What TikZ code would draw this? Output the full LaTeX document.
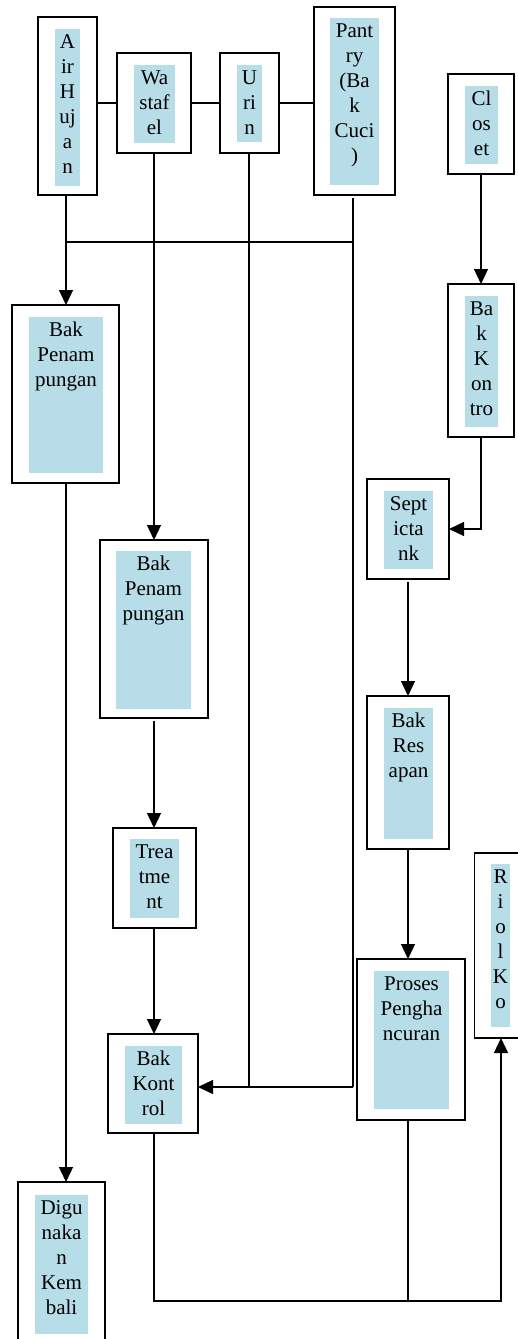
\documentclass[tikz,border=0pt]{standalone}
\usepackage{fontspec}
\setmainfont{Liberation Serif}
\usetikzlibrary{arrows.meta}

\definecolor{LabelColor}{rgb}{0.718,0.867,0.910}
\tikzstyle{unit-box}=[rectangle,
                      draw=black,
                      line width=1.7pt,
                      inner sep=0pt,
                      outer sep=0pt
                     ]
\tikzstyle{unit-label}=[rectangle,
                        fill={LabelColor},
                        inner sep=0pt,
                        anchor=north,
                        font=\fontsize{21}{25}\selectfont
                       ]
\newcommand{\labeltext}[3]{\parbox[t][#2][t]{#1}{\centering\rule{0pt}{20pt}#3}}

\begin{document}
\begin{tikzpicture}[x=1pt, y=-1pt, line width=1.3pt,
    >={Triangle[length=15pt, width=14pt]}]

\useasboundingbox (0,0) rectangle (517,1339);

% sumber
\node at (67.5,106) (airhujan) [unit-box, minimum width=59pt, minimum height=178pt] {};
\node at (67.5,28) (airhujan_l) [unit-label] {\labeltext{25pt}{157pt}{A\\ir\\H\\uj\\a\\n}};
\node at (154,103) (wastafel) [unit-box, minimum width=74pt, minimum height=100pt] {};
\node at (154.5,64) (wastafel_l) [unit-label] {\labeltext{41pt}{78pt}{Wa\\staf\\el}};
\node at (249.5,103) (urin) [unit-box, minimum width=59pt, minimum height=100pt] {};
\node at (249.5,64) (urin_l) [unit-label] {\labeltext{25pt}{77pt}{U\\ri\\n}};
\node at (354.5,101) (pantry) [unit-box, minimum width=81pt, minimum height=188pt] {};
\node at (354.5,17) (pantry_l) [unit-label] {\labeltext{49pt}{167pt}{Pant\\ry\\(Ba\\k\\Cuci\\)}};
\node at (481,124) (closet) [unit-box, minimum width=66pt, minimum height=100pt] {};
\node at (481.5,85) (closet_l) [unit-label] {\labeltext{33pt}{78pt}{Cl\\os\\et}};

% jalur air hujan dan wastafel
\node at (65.5,394) (bakpenampungan1) [unit-box, minimum width=107pt, minimum height=178pt] {};
\node at (66,316) (bakpenampungan1_l) [unit-label] {\labeltext{74pt}{156pt}{Bak\\Penam\\pungan}};
\node at (154,629) (bakpenampungan2) [unit-box, minimum width=108pt, minimum height=178pt] {};
\node at (153.5,550) (bakpenampungan2_l) [unit-label] {\labeltext{75pt}{158pt}{Bak\\Penam\\pungan}};
\node at (154.5,878) (treatment) [unit-box, minimum width=83pt, minimum height=100pt] {};
\node at (154.5,838) (treatment_l) [unit-label] {\labeltext{49pt}{79pt}{Trea\\tme\\nt}};
\node at (153,1083.5) (bakkontrol_l) [unit-box, minimum width=90pt, minimum height=99pt] {};
\node at (153.5,1045) (bakkontrol_l_l) [unit-label] {\labeltext{57pt}{78pt}{Bak\\Kont\\rol}};
\node at (61.5,1263) (digunakan) [unit-box, minimum width=87pt, minimum height=162pt] {};
\node at (61.5,1194) (digunakan_l) [unit-label] {\labeltext{53pt}{139pt}{Digu\\naka\\n\\Kem\\bali}};

% jalur closet
\node at (481,360.5) (bakkontrol_r) [unit-box, minimum width=66pt, minimum height=153pt] {};
\node at (481.5,295) (bakkontrol_r_l) [unit-label] {\labeltext{33pt}{131pt}{Ba\\k\\K\\on\\tro}};
\node at (408,529) (septictank) [unit-box, minimum width=82pt, minimum height=100pt] {};
\node at (408.5,490) (septictank_l) [unit-label] {\labeltext{49pt}{78pt}{Sept\\icta\\nk}};
\node at (408,772.5) (bakresapan) [unit-box, minimum width=82pt, minimum height=153pt] {};
\node at (408.5,707) (bakresapan_l) [unit-label] {\labeltext{49pt}{131pt}{Bak\\Res\\apan}};
\node at (411,1039.5) (proses) [unit-box, minimum width=108pt, minimum height=161pt] {};
\node at (411.5,970) (proses_l) [unit-label] {\labeltext{75pt}{138pt}{Proses\\Pengha\\ncuran}};
\node at (501,945.5) (riolkota) [unit-box, minimum width=53pt, minimum height=185pt] {};
\node at (500.5,863) (riolkota_l) [unit-label] {\labeltext{19pt}{163pt}{R\\i\\o\\l\\K\\o}};

\coordinate (bus_l) at (66,242);
\coordinate (bus_r) at (353,242);
\coordinate (join_urin) at (249,1087);
\coordinate (join_pantry) at (353,1087);
\coordinate (bus_b) at (501,1301);

\draw (airhujan.east |- wastafel.west) -- (wastafel.west);
\draw (wastafel.east) -- (urin.west);
\draw (urin.east) -- (pantry.west |- urin.east);
\draw (airhujan.south -| bus_l) -- (bus_l) -- (bus_r);
\draw[->] (bus_l) -- (bus_l |- bakpenampungan1.north);
\draw[shorten <=3pt] (pantry.south -| join_pantry) -- (join_pantry);
\draw (urin.south -| join_urin) -- (join_urin);
\draw[->] (join_pantry) -- (bakkontrol_l.east |- join_pantry);
\draw[->] (wastafel.south) -- (bakpenampungan2.north);
\draw[->, shorten <=3pt] (bakpenampungan2.south) -- (treatment.north -| bakpenampungan2.south);
\draw[->] (treatment.south -| bakpenampungan2.south) -- (bakkontrol_l.north -| bakpenampungan2.south);
\draw[->] (bakpenampungan1.south -| bus_l) -- (bus_l |- digunakan.north);
\draw[->] (closet.south) -- (bakkontrol_r.north);
\draw[->] (bakkontrol_r.south) |- (septictank.east);
\draw[->, shorten <=3pt] (septictank.south) -- (bakresapan.north);
\draw[->] (bakresapan.south) -- (bakresapan.south |- proses.north);
\draw[->] (bakkontrol_l.south -| bakpenampungan2.south) |- (bus_b) -- (riolkota.south);
\draw (proses.south -| bakresapan.south) -- (bakresapan.south |- bus_b);

\end{tikzpicture}
\end{document}
